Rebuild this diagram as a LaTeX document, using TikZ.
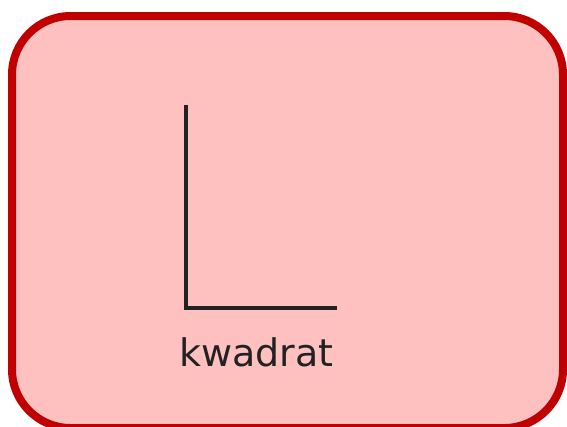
\documentclass[tikz,border=0pt]{standalone}
\usepackage{fontspec}
\setmainfont{DejaVu Sans}
\definecolor{boxfill}{HTML}{FFC0C0}
\definecolor{boxline}{HTML}{C00000}
\definecolor{ink}{HTML}{222222}
\begin{document}
\begin{tikzpicture}[x=0.75pt,y=-0.75pt,
  frame/.style={draw=boxline,fill=boxfill,line width=6pt,rounded corners=44pt},
  axis/.style={draw=ink,line width=2.4pt},
  lbl/.style={text=ink,font=\fontsize{28.5pt}{30pt}\selectfont,inner sep=0pt,anchor=base}]
\useasboundingbox (0,0) rectangle (567,426);
\path[frame] (12,16) rectangle (563,428);
\coordinate (top) at (186,105);
\coordinate (corner) at (186,308);
\coordinate (right) at (337,308);
\draw[axis] (top) -- (corner) -- (right);
\node[lbl] (label) at (256.5,366) {kwadrat};
\end{tikzpicture}
\end{document}
